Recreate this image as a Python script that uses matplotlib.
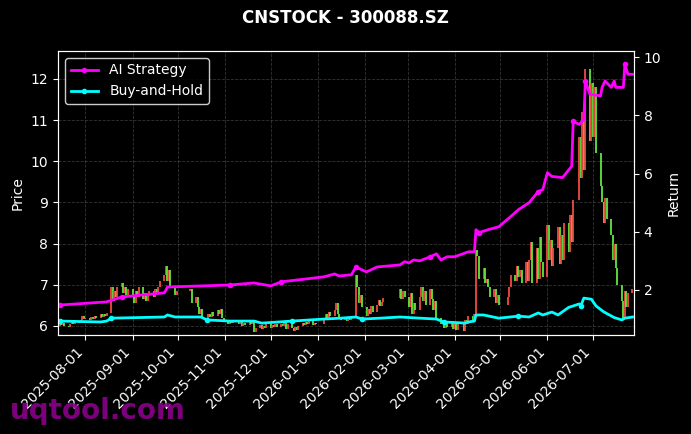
import numpy as np
import pandas as pd
import matplotlib
matplotlib.use('Agg')
import matplotlib.pyplot as plt
import matplotlib.dates as mdates

# trading calendar (SZSE holidays removed)
holidays = ['2025-10-01', '2025-10-02', '2025-10-03', '2025-10-06', '2025-10-07', '2025-10-08',
            '2026-01-01', '2026-01-02',
            '2026-02-16', '2026-02-17', '2026-02-18', '2026-02-19', '2026-02-20', '2026-02-23',
            '2026-04-06', '2026-05-01', '2026-05-04', '2026-05-05', '2026-06-19']

first_open = 6.00
closes = [
    # 2025-07
    6.05, 6.02, 6.08, 6.00, 5.98, 6.05, 6.10, 6.06, 6.12, 6.08, 6.15, 6.25, 6.18,
    # 2025-08
    6.20, 6.15, 6.22, 6.18, 6.25, 6.20, 6.28, 6.22, 6.30, 6.25, 6.32, 6.95, 6.60, 6.85, 6.70,
    6.95, 7.05, 6.80, 6.95, 6.75, 6.90,
    # 2025-09
    6.75, 6.55, 6.85, 6.70, 6.95, 6.65, 6.80, 6.60, 6.75, 6.85, 6.70, 6.90, 6.80, 6.95, 7.10,
    7.25, 7.45, 7.10, 7.35, 6.95, 6.75, 6.85,
    # 2025-10
    6.90, 6.55, 6.70, 6.45, 6.30, 6.42, 6.20, 6.15, 6.28, 6.22, 6.35, 6.25, 6.40, 6.30, 6.42,
    6.20, 6.10,
    # 2025-11
    6.05, 6.12, 6.08, 6.15, 6.10, 6.05, 6.12, 6.00, 6.08, 6.03, 6.10, 6.05, 6.12, 5.85, 5.95,
    6.02, 5.92, 6.00, 5.95, 6.05,
    # 2025-12
    5.95, 6.03, 5.97, 6.05, 5.98, 6.05, 6.00, 6.10, 5.92, 6.05, 5.95, 5.88, 5.98, 5.90, 6.00,
    6.08, 6.02, 6.10, 6.05, 6.12, 6.03, 6.08, 6.05,
    # 2026-01
    6.20, 6.30, 6.18, 6.35, 6.25, 6.40, 6.55, 6.30, 6.20, 6.15, 6.22, 6.12, 6.20, 6.15, 6.25,
    7.25, 6.95, 6.55, 6.75, 6.45,
    # 2026-02
    6.25, 6.42, 6.30, 6.48, 6.35, 6.50, 6.62, 6.48, 6.58, 6.68, 6.90, 6.65, 6.85, 6.70,
    # 2026-03
    6.45, 6.80, 6.30, 6.55, 6.40, 6.70, 6.95, 6.60, 6.85, 6.50, 6.90, 6.65, 6.40, 6.60, 6.20,
    6.05, 6.12, 5.95, 6.08, 5.98, 6.10, 5.92,
    # 2026-04
    6.05, 5.90, 6.10, 5.88, 6.15, 6.05, 6.25, 6.15, 6.30, 7.85, 7.70, 7.15, 7.40, 7.05, 7.15,
    6.95, 6.70, 6.90, 6.55, 6.75, 6.50,
    # 2026-05
    6.70, 6.95, 7.25, 7.10, 7.45, 7.20, 7.35, 7.05, 7.55, 7.10, 7.60, 8.05, 7.05, 7.90, 7.15,
    8.15, 7.55, 7.20,
    # 2026-06
    8.45, 7.60, 8.10, 7.45, 7.90, 8.40, 7.50, 8.20, 7.60, 8.50, 7.80, 8.70, 8.05, 9.05, 10.60,
    9.60, 11.20, 9.80, 12.25, 10.50, 11.90,
    # 2026-07
    10.60, 11.80, 10.20, 9.40, 9.00, 8.50, 9.10, 8.60, 8.20, 7.60, 8.00, 7.40, 7.00, 6.60, 6.20,
    6.85, 6.45, 6.80, 6.90,
]

ai_dates = ['2025-07-15', '2025-08-15', '2025-08-25', '2025-09-22', '2025-09-24', '2025-11-04',
            '2025-11-20', '2025-12-01', '2025-12-08', '2026-01-05', '2026-01-12', '2026-01-15',
            '2026-01-23', '2026-01-26', '2026-01-27', '2026-02-02', '2026-02-09', '2026-02-24',
            '2026-02-27', '2026-03-02', '2026-03-05', '2026-03-09', '2026-03-16', '2026-03-20',
            '2026-03-23', '2026-03-27', '2026-04-01', '2026-04-10', '2026-04-14', '2026-04-15',
            '2026-04-17', '2026-04-23', '2026-04-30', '2026-05-07', '2026-05-13', '2026-05-20',
            '2026-05-26', '2026-05-29', '2026-06-01', '2026-06-04', '2026-06-11', '2026-06-17',
            '2026-06-18', '2026-06-22', '2026-06-25', '2026-06-26', '2026-06-29', '2026-07-06',
            '2026-07-07', '2026-07-09', '2026-07-13', '2026-07-15', '2026-07-16', '2026-07-21',
            '2026-07-22', '2026-07-24', '2026-07-27']
ai_ret = [1.48, 1.59, 1.76, 1.90, 2.10, 2.17,
          2.24, 2.14, 2.28, 2.45, 2.55, 2.48,
          2.52, 2.79, 2.76, 2.62, 2.79, 2.86,
          2.97, 2.93, 3.03, 3.00, 3.14, 3.24,
          3.03, 3.14, 3.14, 3.31, 3.31, 4.07,
          3.97, 4.07, 4.17, 4.48, 4.76, 5.00,
          5.38, 5.45, 6.03, 5.90, 5.86, 6.25,
          7.79, 7.69, 7.86, 9.18, 8.72, 8.67,
          8.96, 9.18, 8.96, 9.18, 8.96, 8.96,
          9.76, 9.41, 9.41]

bh_dates = ['2025-07-15', '2025-08-11', '2025-08-15', '2025-08-18', '2025-09-22', '2025-09-24',
            '2025-09-29', '2025-10-16', '2025-10-20', '2025-11-04', '2025-11-20', '2025-11-25',
            '2025-12-15', '2026-01-05', '2026-01-16', '2026-01-26', '2026-01-30', '2026-02-11',
            '2026-02-24', '2026-03-09', '2026-03-20', '2026-03-25', '2026-04-08', '2026-04-10',
            '2026-04-14', '2026-04-15', '2026-04-20', '2026-04-30', '2026-05-13', '2026-05-20',
            '2026-05-26', '2026-05-29', '2026-06-04', '2026-06-08', '2026-06-15', '2026-06-18',
            '2026-06-22', '2026-06-23', '2026-06-25', '2026-06-30', '2026-07-03', '2026-07-08',
            '2026-07-15', '2026-07-20', '2026-07-22', '2026-07-27']
bh_ret = [0.93, 0.90, 0.93, 1.03, 1.07, 1.14,
          1.07, 1.07, 0.97, 0.93, 0.93, 0.86,
          0.93, 1.00, 1.03, 1.07, 1.00, 1.03,
          1.07, 1.03, 1.00, 0.90, 0.86, 0.90,
          0.93, 1.14, 1.14, 1.03, 1.10, 1.07,
          1.21, 1.14, 1.24, 1.14, 1.40, 1.45,
          1.52, 1.45, 1.72, 1.68, 1.45, 1.25,
          1.05, 0.97, 1.03, 1.07]

dates = pd.bdate_range('2025-07-15', '2026-07-27')
dates = dates[~dates.isin(pd.to_datetime(holidays))]
n = min(len(dates), len(closes))
dates = dates[:n]
c = np.array(closes[:n])
o = np.concatenate([[first_open], c[:-1]])
lo = np.minimum(o, c)
hi = np.maximum(o, c)
cols = np.where(c >= o, '#f24a42', '#5ee83c')

plt.rcParams['font.family'] = 'DejaVu Sans'
fig = plt.figure(figsize=(6.91, 4.34), dpi=100, facecolor='black')
ax = fig.add_axes([0.084, 0.228, 0.8335, 0.6545])
ax.set_facecolor('black')

ax.vlines(dates, lo, hi, colors=cols, linewidth=1.3)
ax.set_ylim(5.78, 12.68)
ax.set_xlim(pd.Timestamp('2025-07-14'), pd.Timestamp('2026-07-28'))
ax.set_ylabel('Price', color='white')
ax.grid(True, linestyle='--', color='gray', alpha=0.4, linewidth=0.6)

ax2 = ax.twinx()
ax2.plot(pd.to_datetime(ai_dates), ai_ret, color='magenta', linewidth=2,
         marker='o', markersize=3, markevery=0.12, label='AI Strategy')
ax2.plot(pd.to_datetime(bh_dates), bh_ret, color='cyan', linewidth=2,
         marker='o', markersize=3, markevery=0.12, label='Buy-and-Hold')
ax2.set_ylim(0.45, 10.21)
ax2.set_ylabel('Return', color='white')

for a in (ax, ax2):
    a.tick_params(colors='white')
    for s in a.spines.values():
        s.set_color('white')

ax.xaxis.set_major_locator(mdates.MonthLocator())
ax.xaxis.set_major_formatter(mdates.DateFormatter('%Y-%m-%d'))
plt.setp(ax.get_xticklabels(), rotation=45, ha='right')

leg = ax2.legend(loc='upper left', facecolor='black', edgecolor='white', labelcolor='white')

fig.suptitle('CNSTOCK - 300088.SZ', color='white', fontsize=12, fontweight='bold', y=0.958, va='center')
fig.text(0.014, 0.035, 'uqtool.com', color='#8b008b', alpha=0.9, fontsize=20, fontweight='bold')

fig.savefig('out.png', dpi=100, facecolor='black')
